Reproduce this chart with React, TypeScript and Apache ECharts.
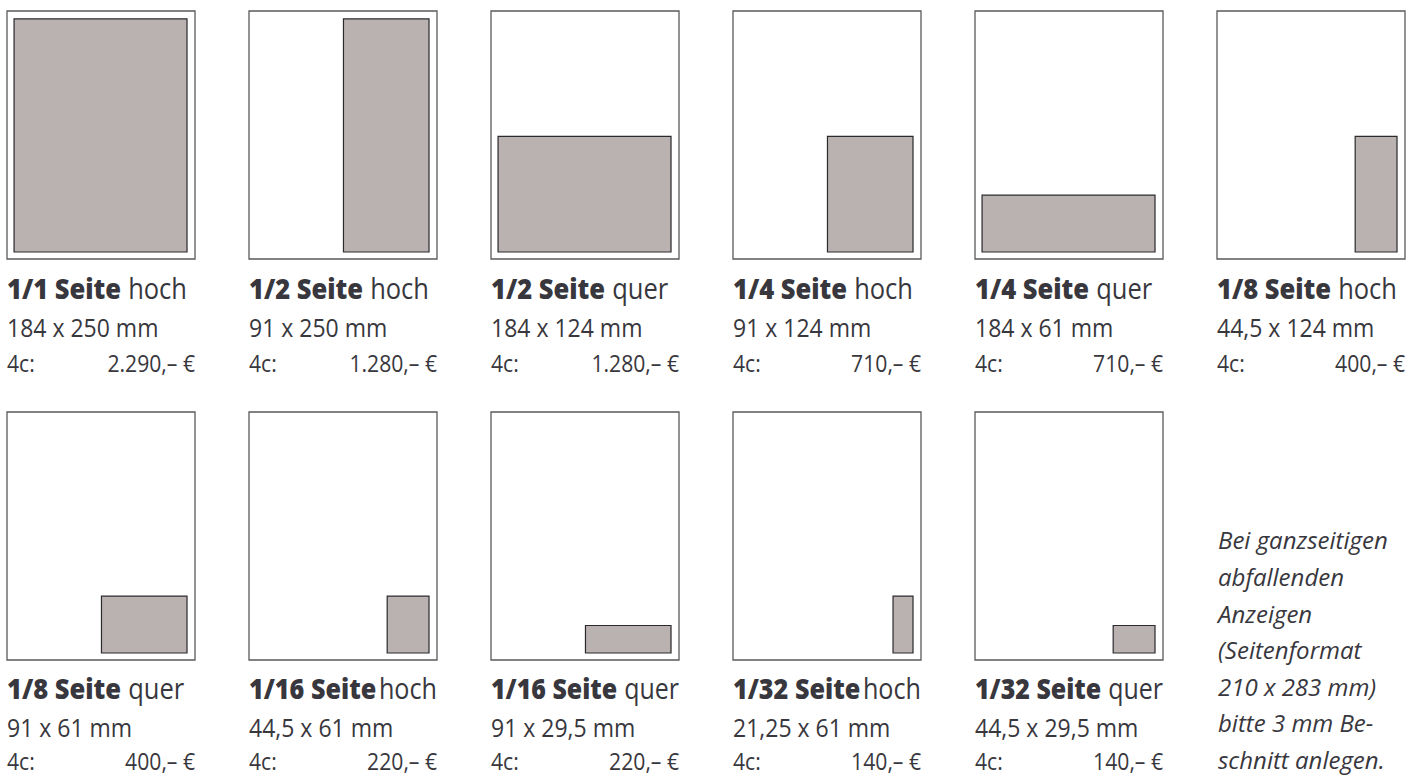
import React, { useEffect, useRef } from "react";
import * as echarts from "echarts";

// ---- data ----
const PAGE_MM = [184, 250]; // usable type area of one page, mm (width, height)
const TITLES = [
  "1/1 Seite", "1/2 Seite", "1/2 Seite", "1/4 Seite", "1/4 Seite", "1/8 Seite",
  "1/8 Seite", "1/16 Seite", "1/16 Seite", "1/32 Seite", "1/32 Seite",
];
const ORIENT = ["hoch", "hoch", "quer", "hoch", "quer", "hoch", "quer", "hoch", "quer", "hoch", "quer"];
const AD_W = [184, 91, 184, 91, 184, 44.5, 91, 44.5, 91, 21.25, 44.5];
const AD_H = [250, 250, 124, 124, 61, 124, 61, 61, 29.5, 61, 29.5];
const PRICE_LABEL = "4c:";
const PRICES = [
  "2.290,– €", "1.280,– €", "1.280,– €", "710,– €", "710,– €", "400,– €",
  "400,– €", "220,– €", "220,– €", "140,– €", "140,– €",
];
const NOTE_LINES = [
  "Bei ganzseitigen",
  "abfallenden",
  "Anzeigen",
  "(Seitenformat",
  "210 x 283 mm)",
  "bitte 3 mm Be-",
  "schnitt anlegen.",
];

// ---- layout ----
const COLS = 6;
const COL_X = [7, 249, 491, 733, 975, 1217];
const ROW_Y = [11, 412];
const TEXT_BASE = [
  [288.3, 325.7, 361.0],
  [286.8, 324.7, 357.6],
]; // baselines relative to page top, per row
const PAGE_W = 188;
const PAGE_H = 248;
const MARGIN = { left: 7.5, right: 8.5, top: 8.5, bottom: 7.5 }; // mm
const FONT = "'Open Sans', 'Noto Sans', sans-serif";
const TEXT_COLOR = "#38373d";
const SX = 0.92;
const T_SIZE = 29;
const T_REF_W = 180; // width of the "1/1 Seite hoch" title line
const L2_SIZE = 25;
const L3_SIZE = 23;
const NOTE_SIZE = 24;
const MID = 0.388; // baseline -> central offset, em

const fmt = (v: number) => String(v).replace(".", ",");

let ctx: CanvasRenderingContext2D | null = null;
function measure(text: string, font: string) {
  if (!ctx) ctx = document.createElement("canvas").getContext("2d");
  if (!ctx) return text.length * 14;
  ctx.font = font;
  return ctx.measureText(text).width;
}

export default function App() {
  const ref = useRef<HTMLDivElement>(null);
  useEffect(() => {
    if (!ref.current) return;
    const chart = echarts.init(ref.current, null, { renderer: "svg" });
    const grids: any[] = [];
    const xAxes: any[] = [];
    const yAxes: any[] = [];
    const series: any[] = [];
    const graphics: any[] = [];
    const boldFont = `800 ${T_SIZE}px ${FONT}`;
    const regFont = `400 ${T_SIZE}px ${FONT}`;
    const GAP = 8;
    const common = T_REF_W / (measure(TITLES[0], boldFont) + GAP + measure(ORIENT[0], regFont));
    AD_W.forEach((w, i) => {
      const col = i % COLS;
      const row = Math.floor(i / COLS);
      const left = COL_X[col];
      const top = ROW_Y[row];
      const base = TEXT_BASE[row];
      grids.push({
        left, top, width: PAGE_W, height: PAGE_H,
        show: true, backgroundColor: "#ffffff", borderColor: "#5a595d", borderWidth: 1.3,
      });
      xAxes.push({ type: "value", gridIndex: i, min: -MARGIN.left, max: PAGE_MM[0] + MARGIN.right, show: false });
      yAxes.push({ type: "value", gridIndex: i, min: -MARGIN.bottom, max: PAGE_MM[1] + MARGIN.top, show: false });
      series.push({
        type: "custom",
        xAxisIndex: i,
        yAxisIndex: i,
        silent: true,
        data: [[w, AD_H[i]]],
        renderItem: (_p: any, api: any) => {
          const aw = api.value(0);
          const ah = api.value(1);
          const tl = api.coord([PAGE_MM[0] - aw, ah]);
          const br = api.coord([PAGE_MM[0], 0]);
          return {
            type: "rect",
            shape: { x: tl[0], y: tl[1], width: br[0] - tl[0], height: br[1] - tl[1] },
            style: { fill: "#bab2b0", stroke: "#2a292d", lineWidth: 1.2 },
          };
        },
      });
      // title: bold part + regular part
      const wb = measure(TITLES[i], boldFont);
      const wr = measure(ORIENT[i], regFont);
      let gap = GAP;
      let sc = Math.min(common, PAGE_W / (wb + gap + wr));
      if (sc < common * 0.975) {
        gap = 3;
        sc = Math.min(common, PAGE_W / (wb + gap + wr));
      }
      const ty = top + base[0] - MID * T_SIZE;
      graphics.push({
        type: "text", x: left, y: ty, scaleX: sc,
        style: { text: TITLES[i], fontFamily: FONT, fontSize: T_SIZE, fontWeight: 800, fill: TEXT_COLOR, verticalAlign: "middle" },
      });
      graphics.push({
        type: "text", x: left + (wb + gap) * sc, y: ty, scaleX: sc,
        style: { text: ORIENT[i], fontFamily: FONT, fontSize: T_SIZE, fontWeight: 400, fill: TEXT_COLOR, verticalAlign: "middle" },
      });
      graphics.push({
        type: "text",
        x: left,
        y: top + base[1] - MID * L2_SIZE,
        scaleX: SX,
        style: {
          text: `${fmt(w)} x ${fmt(AD_H[i])} mm`,
          fontFamily: FONT, fontSize: L2_SIZE, fill: TEXT_COLOR, verticalAlign: "middle",
        },
      });
      graphics.push({
        type: "text",
        x: left,
        y: top + base[2] - MID * L3_SIZE,
        scaleX: SX,
        style: { text: PRICE_LABEL, fontFamily: FONT, fontSize: L3_SIZE, fill: TEXT_COLOR, verticalAlign: "middle" },
      });
      graphics.push({
        type: "text",
        x: left + PAGE_W,
        y: top + base[2] - MID * L3_SIZE,
        scaleX: SX,
        style: { text: PRICES[i], fontFamily: FONT, fontSize: L3_SIZE, fill: TEXT_COLOR, align: "right", verticalAlign: "middle" },
      });
    });
    NOTE_LINES.forEach((line, k) => {
      graphics.push({
        type: "text",
        x: 1218,
        y: 549.3 + k * 36.6 - MID * NOTE_SIZE,
        style: { text: line, fontFamily: FONT, fontSize: NOTE_SIZE, fontStyle: "italic", fill: TEXT_COLOR, verticalAlign: "middle" },
      });
    });
    chart.setOption({
      animation: false,
      backgroundColor: "#ffffff",
      grid: grids,
      xAxis: xAxes,
      yAxis: yAxes,
      series,
      graphic: { elements: graphics },
    });
    return () => chart.dispose();
  }, []);
  return (
    <div
      ref={ref}
      style={{ position: "fixed", left: 0, top: 0, width: 1419, height: 776, background: "#fff" }}
    />
  );
}
